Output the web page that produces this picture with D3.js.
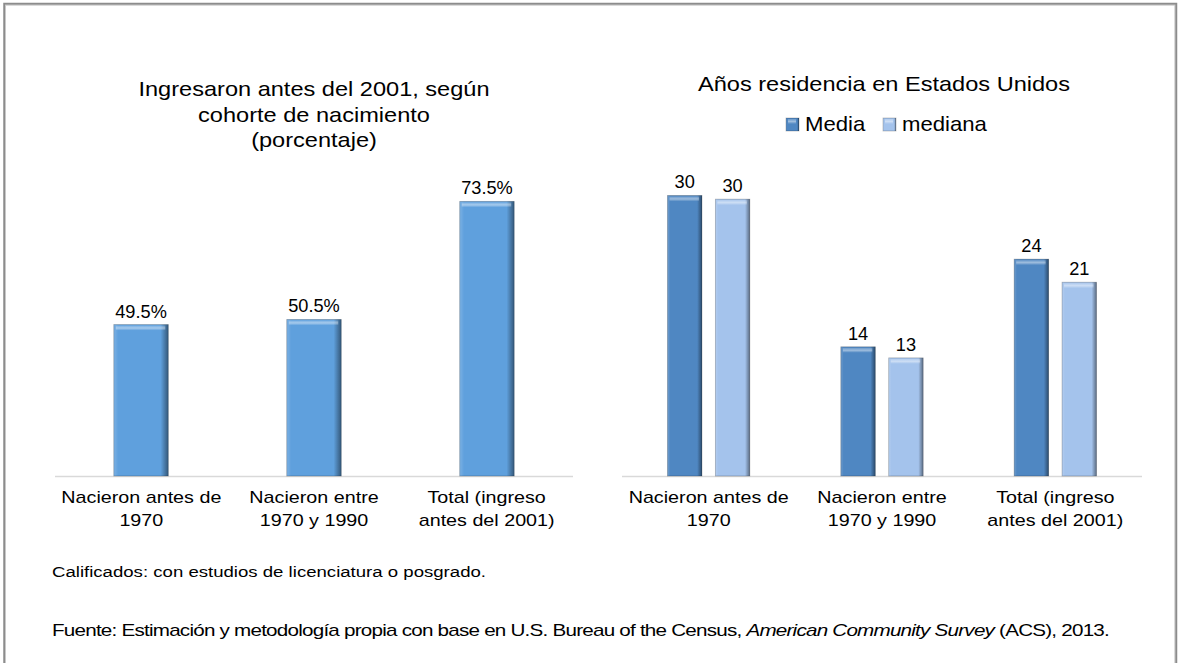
<!DOCTYPE html>
<html><head><meta charset="utf-8">
<script src="https://cdn.jsdelivr.net/npm/d3@7"></script>
<style>
body{margin:0;background:#fff;}
svg{display:block;font-family:"Liberation Sans",Arial,sans-serif;}
</style></head>
<body>
<svg id="c" width="1178" height="663"></svg>
<script>
// ---- data ----
const categories = [["Nacieron antes de","1970"],["Nacieron entre","1970 y 1990"],["Total (ingreso","antes del 2001)"]];
const leftValues = [49.5, 50.5, 73.5];
const leftTitle = ["Ingresaron antes del 2001, según","cohorte de nacimiento","(porcentaje)"];
const rightTitle = "Años residencia en Estados Unidos";
const seriesNames = ["Media","mediana"];
const mediaValues = [30.4, 14.0, 23.5];
const medianaValues = [30.0, 12.8, 21.0];
const note1 = "Calificados: con estudios de licenciatura o posgrado.";

const svg = d3.select("#c");
const defs = svg.append("defs");

function txt(g, x, y, str, size, sx, anchor){
  return g.append("text").attr("transform",`translate(${x},${y}) scale(${sx},1)`)
    .attr("text-anchor",anchor||"start").attr("font-size",size).attr("fill","#000").text(str);
}

// bevel gradients
const g1 = defs.append("linearGradient").attr("id","bev").attr("x1","0").attr("x2","1").attr("y1","0").attr("y2","0");
g1.append("stop").attr("offset","0").attr("stop-color","#fff").attr("stop-opacity",0.18);
g1.append("stop").attr("offset","0.08").attr("stop-color","#fff").attr("stop-opacity",0);
g1.append("stop").attr("offset","0.86").attr("stop-color","#000").attr("stop-opacity",0);
g1.append("stop").attr("offset","1").attr("stop-color","#000").attr("stop-opacity",0.45);
const tg = defs.append("linearGradient").attr("id","topb").attr("x1","0").attr("x2","0").attr("y1","0").attr("y2","1");
tg.append("stop").attr("offset","0").attr("stop-color","#fff").attr("stop-opacity",0.15);
tg.append("stop").attr("offset","0.5").attr("stop-color","#fff").attr("stop-opacity",0.45);
tg.append("stop").attr("offset","1").attr("stop-color","#fff").attr("stop-opacity",0);

// frame
svg.append("rect").attr("x",4.5).attr("y",4).attr("width",1171.5).attr("height",700)
  .attr("fill","none").attr("stroke","#8c8c8c").attr("stroke-width",2.5);
svg.append("rect").attr("x",5.5).attr("y",5).attr("width",1169.5).attr("height",700)
  .attr("fill","none").attr("stroke","#d0d0d0").attr("stroke-width",0.8);

function drawBar(g, x, y, w, h, color){
  g.append("rect").attr("x",x).attr("y",y).attr("width",w).attr("height",h).attr("fill",color);
  g.append("rect").attr("x",x).attr("y",y).attr("width",w).attr("height",h).attr("fill","url(#bev)");
  g.append("rect").attr("x",x+2).attr("y",y+1).attr("width",w-5).attr("height",Math.min(5,h)).attr("fill","url(#topb)");
  g.append("rect").attr("x",x).attr("y",y).attr("width",w).attr("height",h).attr("fill","none")
    .attr("stroke","#000").attr("stroke-opacity",0.25).attr("stroke-width",0.8);
}

const baseY = 476;
const SX = 1.15;

// ---- left chart ----
const xL = d3.scaleBand().domain(d3.range(3)).range([55,573]).paddingInner(0.685).paddingOuter(0.34);
const yL = d3.scaleLinear().domain([20,80]).range([baseY,168]);
const gL = svg.append("g");
gL.append("line").attr("x1",55).attr("x2",573).attr("y1",baseY+0.5).attr("y2",baseY+0.5).attr("stroke","#d9d9d9").attr("stroke-width",1.5);
leftValues.forEach((v,i)=>{
  drawBar(gL, xL(i), yL(v), xL.bandwidth(), baseY - yL(v), "#5fa0dd");
  txt(gL, xL(i)+xL.bandwidth()/2, yL(v)-7, d3.format(".1f")(v)+"%", 17.5, 1.04, "middle");
});
leftTitle.forEach((t,i)=>{
  txt(gL, 314, 96+i*25.5, t, 20.5, SX, "middle");
});
const xLc = d3.scaleBand().domain(d3.range(3)).range([55,573]);
categories.forEach((c,i)=>{
  c.forEach((t,j)=>{
    txt(gL, xLc(i)+xLc.bandwidth()/2, 503+j*23, t, 17, 1.16, "middle");
  });
});

// ---- right chart ----
const x0 = d3.scaleBand().domain(d3.range(3)).range([622,1142]);
const x1 = d3.scaleBand().domain(seriesNames).range([0,x0.bandwidth()]).paddingInner(0.28).paddingOuter(0.95);
const yR = d3.scaleLinear().domain([0,35]).range([baseY,153]);
const colors = {"Media":"#4f87c2","mediana":"#a4c3ec"};
const gR = svg.append("g");
gR.append("line").attr("x1",622).attr("x2",1142).attr("y1",baseY+0.5).attr("y2",baseY+0.5).attr("stroke","#d9d9d9").attr("stroke-width",1.5);
[mediaValues, medianaValues].forEach((vals,si)=>{
  const s = seriesNames[si];
  vals.forEach((v,i)=>{
    const x = x0(i)+x1(s);
    drawBar(gR, x, yR(v), x1.bandwidth(), baseY - yR(v), colors[s]);
    txt(gR, x+x1.bandwidth()/2, yR(v)-7, d3.format(".0f")(v), 17.5, 1.04, "middle");
  });
});
txt(gR, 884, 91, rightTitle, 20.5, SX, "middle");
// legend
const legX = [786, 883];
seriesNames.forEach((s,i)=>{
  const lx = legX[i];
  drawBar(gR, lx, 118, 13, 13, colors[s]);
  txt(gR, lx+19, 131, s, 20.5, 1.08, "start");
});
categories.forEach((c,i)=>{
  c.forEach((t,j)=>{
    txt(gR, x0(i)+x0.bandwidth()/2, 503+j*23, t, 17, 1.16, "middle");
  });
});

// ---- notes ----
txt(svg, 52, 577, note1, 15.5, 1.2, "start");
const src = svg.append("text").attr("transform","translate(52,636) scale(1.29,1)").attr("font-size",16).attr("fill","#000").attr("letter-spacing",-0.6);
src.append("tspan").text("Fuente: Estimación y metodología propia con base en U.S. Bureau of the Census, ");
src.append("tspan").attr("font-style","italic").text("American Community Survey");
src.append("tspan").text(" (ACS), 2013.");
</script>
</body></html>
